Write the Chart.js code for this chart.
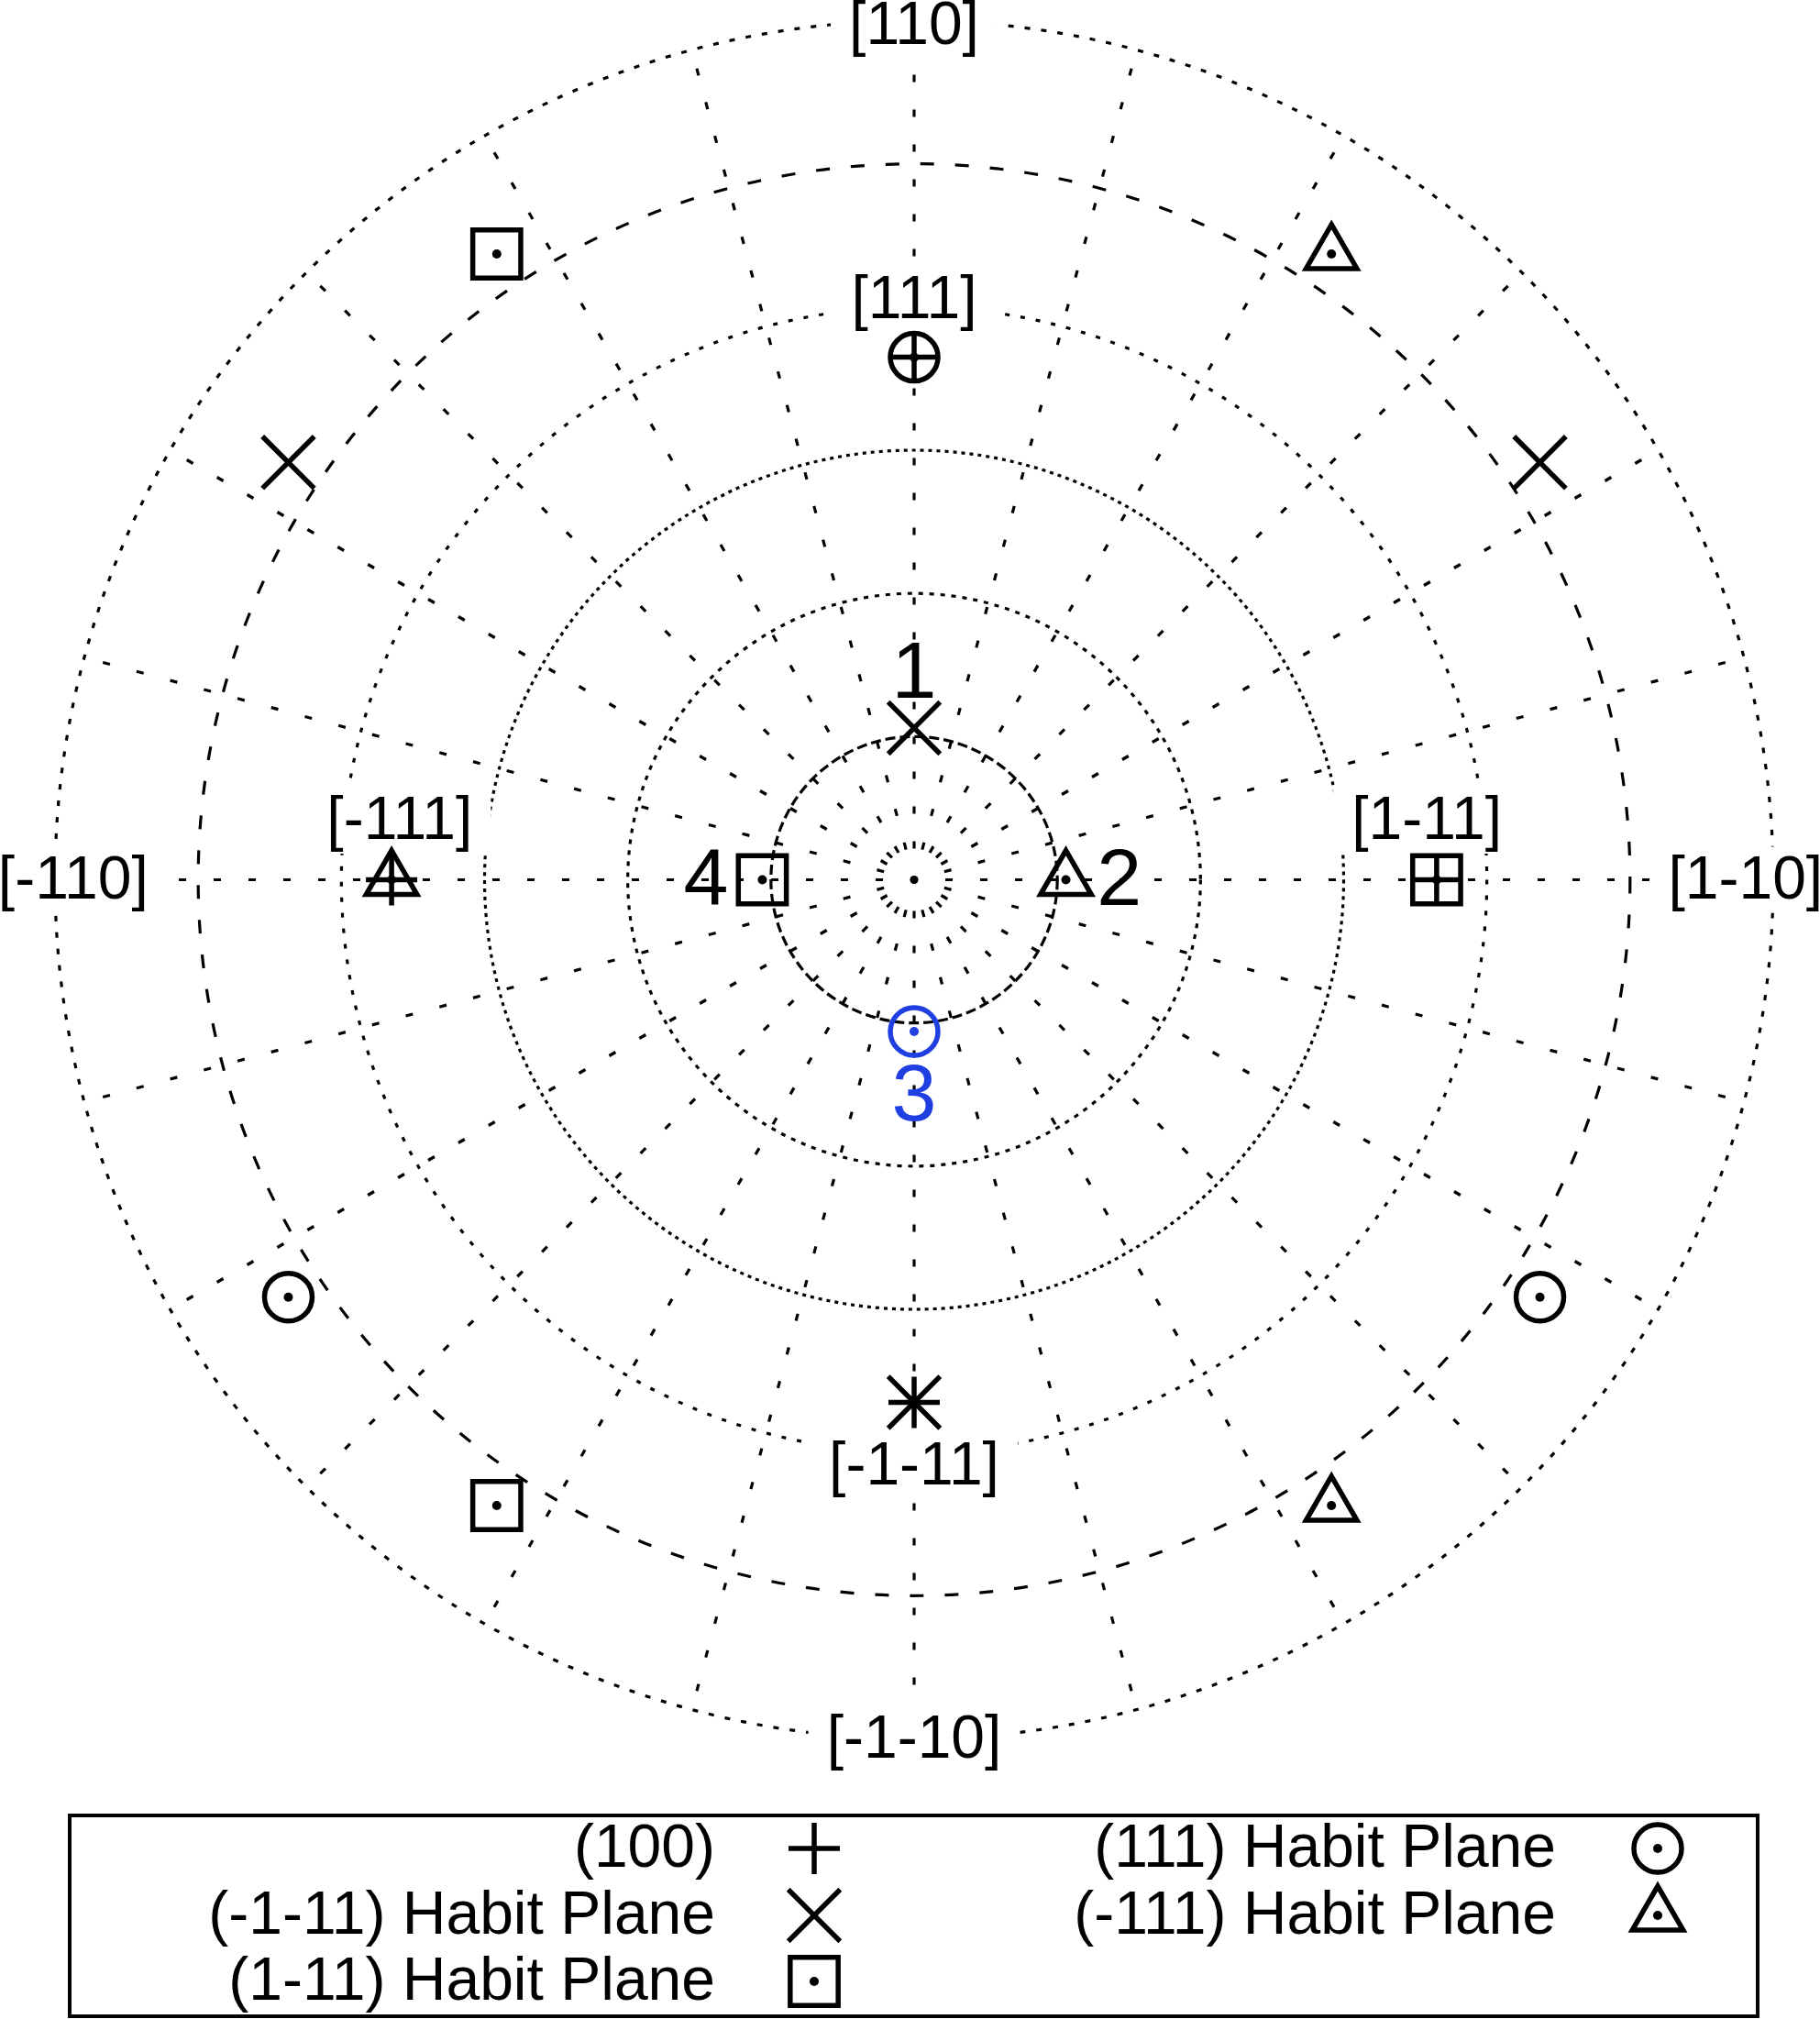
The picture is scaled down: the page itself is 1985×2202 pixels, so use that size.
<!DOCTYPE html>
<html>
<head>
<meta charset="utf-8">
<script src="https://cdn.jsdelivr.net/npm/chart.js@4/dist/chart.umd.min.js"></script>
<style>
  html, body { margin: 0; padding: 0; background: #ffffff; }
  #wrap { width: 1985px; height: 2202px; position: relative; }
</style>
</head>
<body>
<div id="wrap"><canvas id="c" width="1985" height="2202"></canvas></div>
<script>
// ---------- DATA (tilt from centre in degrees, azimuth in degrees) ----------
const ringAngles = [15, 30, 45, 60, 75, 90];
const spokeAzimuths = [0,15,30,45,60,75,90,105,120,135,150,165,180,195,210,225,240,255,270,285,300,315,330,345];

const p100Tilt = [54.74, 54.74, 54.74, 54.74];
const p100Az   = [90, 0, 180, 270];

const hpM1M11Tilt = [78.8, 78.8, 15.9, 54.74];      // (-1-11) Habit Plane
const hpM1M11Az   = [146.3, 33.7, 90, 270];

const hp1M11Tilt = [78.8, 78.8, 15.9, 54.74];       // (1-11) Habit Plane
const hp1M11Az   = [123.7, 236.3, 180, 0];

const hp111Tilt = [78.8, 78.8, 15.9, 54.74];        // (111) Habit Plane
const hp111Az   = [213.7, 326.3, 270, 90];

const hpM111Tilt = [78.8, 78.8, 15.9, 54.74];       // (-111) Habit Plane
const hpM111Az   = [56.3, 303.7, 0, 180];

const seriesNames = ['(100)', '(-1-11) Habit Plane', '(1-11) Habit Plane', '(111) Habit Plane', '(-111) Habit Plane'];

const dirLabels = ['[110]', '[1-10]', '[-110]', '[-1-10]', '[111]', '[1-11]', '[-111]', '[-1-11]'];
const dirLabelX = [0, 87.1, -88.1, 0, 0, 53.7, -53.9, 0];
const dirLabelY = [89.5, 0, 0, -90, 60.8, 6.2, 6.2, -61.4];

const numLabels = ['1', '2', '3', '4'];
const numLabelX = [0, 21.5, 0, -21.8];
const numLabelY = [21.7, 0, -22.6, 0];

// ---------- helpers ----------
const BLUE = '#1f3fe0';
function toXY(tilts, azs) {
  return tilts.map((t, i) => ({
    x: t * Math.cos(azs[i] * Math.PI / 180),
    y: t * Math.sin(azs[i] * Math.PI / 180)
  }));
}
const FONT = '"Liberation Sans", Arial, Helvetica, sans-serif';

const ringDash = {15: [11, 5], 30: [5, 7], 45: [4, 5], 60: [5, 12], 75: [15, 23], 90: [6, 12]};

const gridPlugin = {
  id: 'polarGrid',
  beforeDatasetsDraw(chart) {
    const ctx = chart.ctx;
    const xs = chart.scales.x, ys = chart.scales.y;
    const cx = xs.getPixelForValue(0), cy = ys.getPixelForValue(0);
    const k = (xs.getPixelForValue(90) - cx) / 90;
    ctx.save();
    ctx.strokeStyle = '#000';
    ctx.lineWidth = 3.2;
    ctx.lineCap = 'butt';
    // spokes
    ctx.setLineDash([8, 30]);
    ctx.lineDashOffset = 4;
    spokeAzimuths.forEach(a => {
      const r = a * Math.PI / 180;
      ctx.beginPath();
      ctx.moveTo(cx, cy);
      ctx.lineTo(cx + 90 * k * Math.cos(r), cy - 90 * k * Math.sin(r));
      ctx.stroke();
    });
    // rings
    ctx.lineDashOffset = 0;
    ringAngles.forEach(t => {
      ctx.setLineDash(ringDash[t] || [6, 10]);
      ctx.beginPath();
      ctx.arc(cx, cy, t * k, 0, Math.PI * 2);
      ctx.stroke();
    });
    ctx.setLineDash([]);
    // centre dot
    ctx.fillStyle = '#000';
    ctx.beginPath();
    ctx.arc(cx, cy, 4.5, 0, Math.PI * 2);
    ctx.fill();

    // direction labels with white background
    ctx.font = '66px ' + FONT;
    ctx.textAlign = 'center';
    ctx.textBaseline = 'middle';
    dirLabels.forEach((s, i) => {
      const px = xs.getPixelForValue(dirLabelX[i]);
      const py = ys.getPixelForValue(dirLabelY[i]);
      const m = ctx.measureText(s);
      const w = m.width, h = 56;
      ctx.fillStyle = '#fff';
      ctx.fillRect(px - w / 2 - 20, py - h / 2 - 8, w + 40, h + 16);
      ctx.fillStyle = '#000';
      ctx.fillText(s, px, py + 2);
    });
    // number labels
    ctx.font = '88px ' + FONT;
    numLabels.forEach((s, i) => {
      ctx.fillStyle = (s === '3') ? BLUE : '#000';
      ctx.fillText(s, xs.getPixelForValue(numLabelX[i]), ys.getPixelForValue(numLabelY[i]) + 3);
    });
    ctx.restore();
  }
};

const innerDotPlugin = {
  id: 'innerDot',
  afterDatasetsDraw(chart) {
    const ctx = chart.ctx;
    ctx.save();
    chart.data.datasets.forEach((ds, di) => {
      if (!ds.innerDot) return;
      const meta = chart.getDatasetMeta(di);
      meta.data.forEach((el, i) => {
        const col = Array.isArray(ds.pointBorderColor) ? ds.pointBorderColor[i] : ds.pointBorderColor;
        ctx.fillStyle = col;
        ctx.beginPath();
        ctx.arc(el.x, el.y, 5, 0, Math.PI * 2);
        ctx.fill();
      });
    });
    ctx.restore();
  }
};

const legendPlugin = {
  id: 'boxLegend',
  afterDraw(chart) {
    const ctx = chart.ctx;
    ctx.save();
    ctx.strokeStyle = '#000';
    ctx.lineWidth = 4;
    ctx.setLineDash([]);
    ctx.strokeRect(76, 1980, 1841, 219);
    const cols = [{textRight: 780, marker: 888}, {textRight: 1697, marker: 1808}];
    const rows = [2016, 2089, 2161];
    const layout = [[0, 0], [0, 1], [0, 2], [1, 0], [1, 1]];
    ctx.font = '66px ' + FONT;
    ctx.textAlign = 'right';
    ctx.textBaseline = 'middle';
    chart.data.datasets.forEach((ds, i) => {
      const [c, r] = layout[i];
      const y = rows[r];
      ctx.fillStyle = '#000';
      ctx.fillText(ds.label, cols[c].textRight, y + 2);
      const mx = cols[c].marker;
      ctx.strokeStyle = '#000';
      ctx.fillStyle = 'rgba(0,0,0,0)';
      ctx.lineWidth = ds.pointBorderWidth;
      Chart.helpers.drawPoint(ctx, {pointStyle: ds.pointStyle, radius: ds.pointRadius, rotation: 0, borderWidth: ds.pointBorderWidth}, mx, y);
      if (ds.innerDot) {
        ctx.fillStyle = '#000';
        ctx.beginPath();
        ctx.arc(mx, y, 5, 0, Math.PI * 2);
        ctx.fill();
      }
    });
    ctx.restore();
  }
};

const common = {showLine: false, pointBackgroundColor: 'rgba(0,0,0,0)', pointBorderWidth: 5.5, clip: false};

const chart = new Chart(document.getElementById('c'), {
  type: 'scatter',
  data: {
    datasets: [
      Object.assign({label: seriesNames[0], data: toXY(p100Tilt, p100Az), pointStyle: 'cross', pointRadius: 28, pointBorderColor: '#000'}, common),
      Object.assign({label: seriesNames[1], data: toXY(hpM1M11Tilt, hpM1M11Az), pointStyle: 'crossRot', pointRadius: 40, pointBorderColor: '#000'}, common),
      Object.assign({label: seriesNames[2], data: toXY(hp1M11Tilt, hp1M11Az), pointStyle: 'rect', pointRadius: 37, pointBorderColor: '#000', innerDot: true}, common),
      Object.assign({label: seriesNames[3], data: toXY(hp111Tilt, hp111Az), pointStyle: 'circle', pointRadius: 26, pointBorderColor: ['#000', '#000', BLUE, '#000'], innerDot: true}, common),
      Object.assign({label: seriesNames[4], data: toXY(hpM111Tilt, hpM111Az), pointStyle: 'triangle', pointRadius: 32, pointBorderColor: '#000', innerDot: true}, common)
    ]
  },
  options: {
    responsive: false,
    animation: false,
    events: [],
    layout: {autoPadding: false, padding: {left: 60, right: 51, top: 22.5, bottom: 305.5}},
    scales: {
      x: {type: 'linear', min: -90, max: 90, display: false},
      y: {type: 'linear', min: -90, max: 90, display: false}
    },
    plugins: {legend: {display: false}, tooltip: {enabled: false}}
  },
  plugins: [gridPlugin, innerDotPlugin, legendPlugin]
});
</script>
</body>
</html>
